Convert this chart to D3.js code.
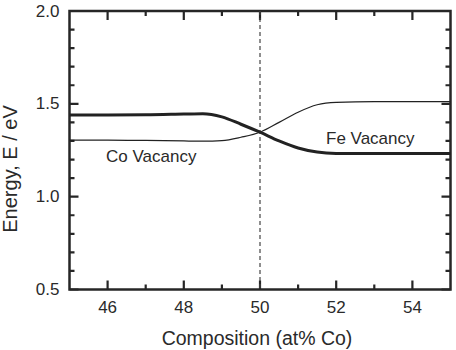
<!DOCTYPE html>
<html>
<head>
<meta charset="utf-8">
<script src="https://cdn.jsdelivr.net/npm/d3@7"></script>
<style>
  body { margin: 0; background: #fff; }
  svg text { font-family: "Liberation Sans", Arial, sans-serif; fill: #2a2a2a; }
</style>
</head>
<body>
<div id="canvas"></div>
<script>
"use strict";

// composition (at% Co)
let composition = [45, 46, 47, 48, 48.5, 49, 49.5, 50, 50.5, 51, 51.5, 52, 53, 54, 55];
// thick curve
let thickEnergy = [1.44, 1.44, 1.441, 1.445, 1.447, 1.43, 1.39, 1.347, 1.30, 1.262, 1.240, 1.233, 1.232, 1.232, 1.233];
// thin curve
let thinEnergy = [1.305, 1.305, 1.303, 1.300, 1.299, 1.302, 1.32, 1.347, 1.40, 1.455, 1.495, 1.508, 1.512, 1.512, 1.512];

let xTicks = [46, 48, 50, 52, 54];
let xMinorTicks = [47, 49, 51, 53];
let yTicks = [0.5, 1.0, 1.5, 2.0];
let yMinorTicks = [0.6, 0.7, 0.8, 0.9, 1.1, 1.2, 1.3, 1.4, 1.6, 1.7, 1.8, 1.9];
let dividerAt = 50;

let svgWidth = 456;
let svgHeight = 350;

let margin = { top: 11, right: 5.5, bottom: 60.5, left: 69.5 };

let svg = d3.select("#canvas")
    .append("svg")
    .attr("width", svgWidth)
    .attr("height", svgHeight);

let xScale = d3.scaleLinear()
    .domain([45, 55])
    .range([margin.left, svgWidth - margin.right]);

let yScale = d3.scaleLinear()
    .domain([0.5, 2.0])
    .range([svgHeight - margin.bottom, margin.top]);

let plotW = xScale.range()[1] - xScale.range()[0];
let plotH = yScale.range()[0] - yScale.range()[1];

let axisColor = "#262626";

/* ---------------- FRAME ---------------- */

svg.append("rect")
    .attr("x", xScale(45)).attr("y", yScale(2.0))
    .attr("width", plotW).attr("height", plotH)
    .attr("fill", "none")
    .attr("stroke", axisColor)
    .attr("stroke-width", 2.5);

/* ---------------- TICKS (inward, all four sides) ---------------- */

// one path per tick set, built from the scales
function tickPath(values, scale, len, side) {
    let left = xScale(45), right = xScale(55);
    let bottom = yScale(0.5), top = yScale(2.0);
    let d = values.map(function (v) {
        let p = scale(v);
        if (side === "bottom") return "M" + p + "," + bottom + "V" + (bottom - len);
        if (side === "top") return "M" + p + "," + top + "V" + (top + len);
        if (side === "left") return "M" + left + "," + p + "H" + (left + len);
        return "M" + right + "," + p + "H" + (right - len);
    }).join("");
    svg.append("path")
        .attr("d", d)
        .attr("fill", "none")
        .attr("stroke", axisColor)
        .attr("stroke-width", 2.2);
}

["bottom", "top"].forEach(function (side) {
    tickPath(xTicks, xScale, 9, side);
    tickPath(xMinorTicks, xScale, 5, side);
});
["left", "right"].forEach(function (side) {
    tickPath(yTicks, yScale, 9, side);
    tickPath(yMinorTicks, yScale, 5, side);
});

/* ---------------- DIVIDER ---------------- */

svg.append("line")
    .attr("x1", xScale(dividerAt)).attr("x2", xScale(dividerAt))
    .attr("y1", yScale(2.0)).attr("y2", yScale(0.5))
    .attr("stroke", "#444")
    .attr("stroke-width", 1.2)
    .attr("stroke-dasharray", "4,3");

/* ---------------- CURVES ---------------- */

let line = d3.line()
    .x(function (d) { return xScale(d[0]); })
    .y(function (d) { return yScale(d[1]); })
    .curve(d3.curveMonotoneX);

svg.append("path")
    .datum(d3.zip(composition, thinEnergy))
    .attr("d", line)
    .attr("fill", "none")
    .attr("stroke", "#222")
    .attr("stroke-width", 1.2);

svg.append("path")
    .datum(d3.zip(composition, thickEnergy))
    .attr("d", line)
    .attr("fill", "none")
    .attr("stroke", "#222")
    .attr("stroke-width", 3);

/* ---------------- LABELS ---------------- */

xTicks.forEach(function (v) {
    svg.append("text")
        .attr("x", xScale(v)).attr("y", yScale(0.5) + 23)
        .attr("text-anchor", "middle")
        .attr("font-size", "17px")
        .text(v);
});

yTicks.forEach(function (v) {
    svg.append("text")
        .attr("x", xScale(45) - 10).attr("y", yScale(v) + 5.5)
        .attr("text-anchor", "end")
        .attr("font-size", "17px")
        .text(d3.format(".1f")(v));
});

svg.append("text")
    .attr("x", 257).attr("y", 345)
    .attr("text-anchor", "middle")
    .attr("font-size", "19.5px")
    .text("Composition (at% Co)");

svg.append("text")
    .attr("transform", "translate(17,169) rotate(-90)")
    .attr("text-anchor", "middle")
    .attr("font-size", "20px")
    .text("Energy, E / eV");

svg.append("text")
    .attr("x", 106).attr("y", 162)
    .attr("font-size", "17px")
    .text("Co Vacancy");

svg.append("text")
    .attr("x", 326).attr("y", 144)
    .attr("font-size", "17px")
    .text("Fe Vacancy");
</script>
</body>
</html>
